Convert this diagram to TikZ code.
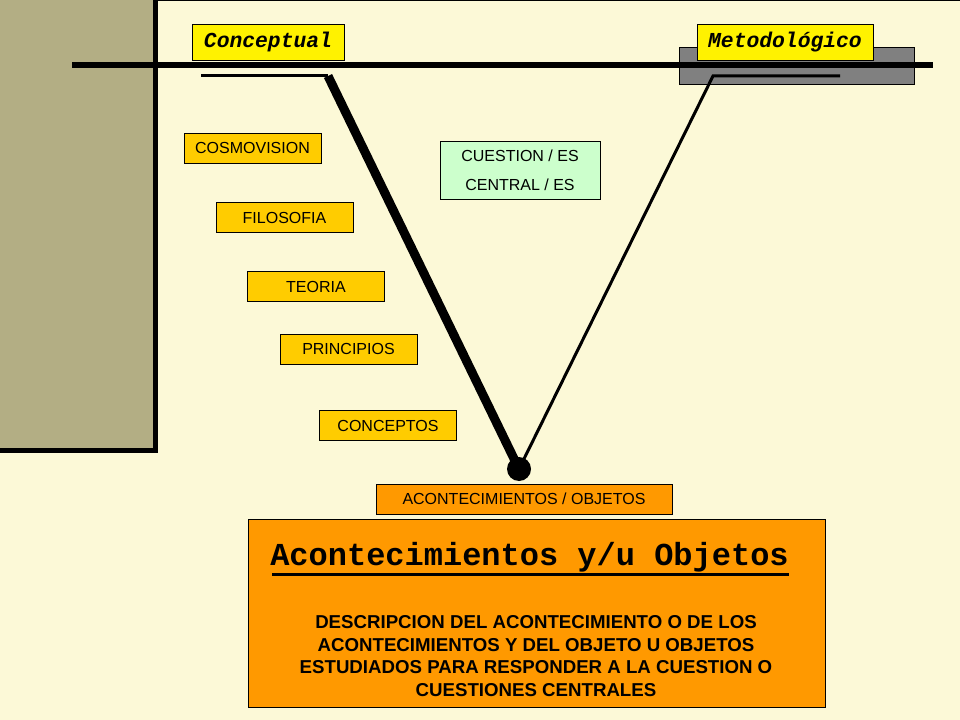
\documentclass[tikz,border=0pt]{standalone}
\usepackage{fontspec}
\setmainfont{Liberation Sans}
\newfontfamily\mono{Liberation Mono}
\definecolor{crema}{RGB}{252,249,215}
\definecolor{caqui}{RGB}{179,174,132}
\definecolor{oro}{RGB}{255,204,0}
\definecolor{naranja}{RGB}{255,153,0}
\definecolor{verdeclaro}{RGB}{204,255,204}
\definecolor{gris}{RGB}{128,128,128}
\tikzset{
	caja/.style={draw, line width=0.6pt, fill=oro, minimum width=102.75pt, minimum height=22.5pt, inner sep=0pt, font=\fontsize{12}{14}\selectfont},
	rotulo/.style={draw, line width=0.6pt, fill=yellow, minimum height=27pt, inner sep=0pt, font=\mono\bfseries\itshape\fontsize{16}{18}\selectfont}
}
\begin{document}
\begin{tikzpicture}[x=0.75pt,y=-0.75pt]
	\useasboundingbox[fill=crema] (0,0) rectangle (960,720);
	% panel izquierdo
	\fill[caqui] (0,0) rectangle (155,450);
	\draw[line width=0.75pt] (155,0.5) -- (960,0.5);
	\draw[line width=3.75pt] (155,0) -- (155,453) (0,450) -- (157,450);
	% barra superior
	\draw[fill=gris, line width=0.6pt] (679,47) rectangle (914,84);
	\draw[line width=4.5pt] (72,65) -- (933,65);
	\node[rotulo, minimum width=114pt] (concep) at (268,42) {Conceptual};
	\node[rotulo, minimum width=132pt] (metodo) at (785,42) {Metodológico};
	% la V
	\coordinate (ci) at (201,76); \coordinate (cv) at (328,76);
	\coordinate (md) at (840,76); \coordinate (mv) at (713,76);
	\node[circle, fill, inner sep=0pt, minimum size=18pt] (punto) at (519,469) {};
	\draw[line width=2.25pt] (ci) -- (cv);
	\draw[line width=6.75pt] (cv) -- (punto.center);
	\draw[line width=2.25pt] (md) -- (mv) -- (punto.center);
	% cajas conceptuales
	\foreach \n/\x/\y/\t in {cosmo/252.5/148/COSMOVISION, filo/284.5/217.5/FILOSOFIA, teoria/316/286.5/TEORIA, princ/348.5/349/PRINCIPIOS, concept/388/425.5/CONCEPTOS}
		\node[caja] (\n) at (\x,\y) {\t};
	\node[caja, fill=verdeclaro, minimum width=120pt, minimum height=43.5pt, align=center, font=\fontsize{12}{21.75}\selectfont] (cuest) at (520,170) {CUESTION / ES\\CENTRAL / ES};
	\node[caja, fill=naranja, minimum width=222pt] (acont) at (524,499) {ACONTECIMIENTOS / OBJETOS};
	% recuadro inferior
	\node[draw, line width=0.6pt, fill=naranja, minimum width=432.75pt, minimum height=141pt] (desc) at (536.5,613) {};
	\node[font=\mono\bfseries\fontsize{24}{26}\selectfont, inner sep=0pt, anchor=base] (titulo) at (529.5,565) {Acontecimientos y/u Objetos};
	\draw[line width=2.25pt] (272,574) -- (789,574);
	\node[align=center, inner sep=0pt, font=\bfseries\fontsize{14}{17}\selectfont] (texto) at (536,656)
		{DESCRIPCION DEL ACONTECIMIENTO O DE LOS\\ACONTECIMIENTOS Y DEL OBJETO U OBJETOS\\ESTUDIADOS PARA RESPONDER A LA CUESTION O\\CUESTIONES CENTRALES};
\end{tikzpicture}
\end{document}
